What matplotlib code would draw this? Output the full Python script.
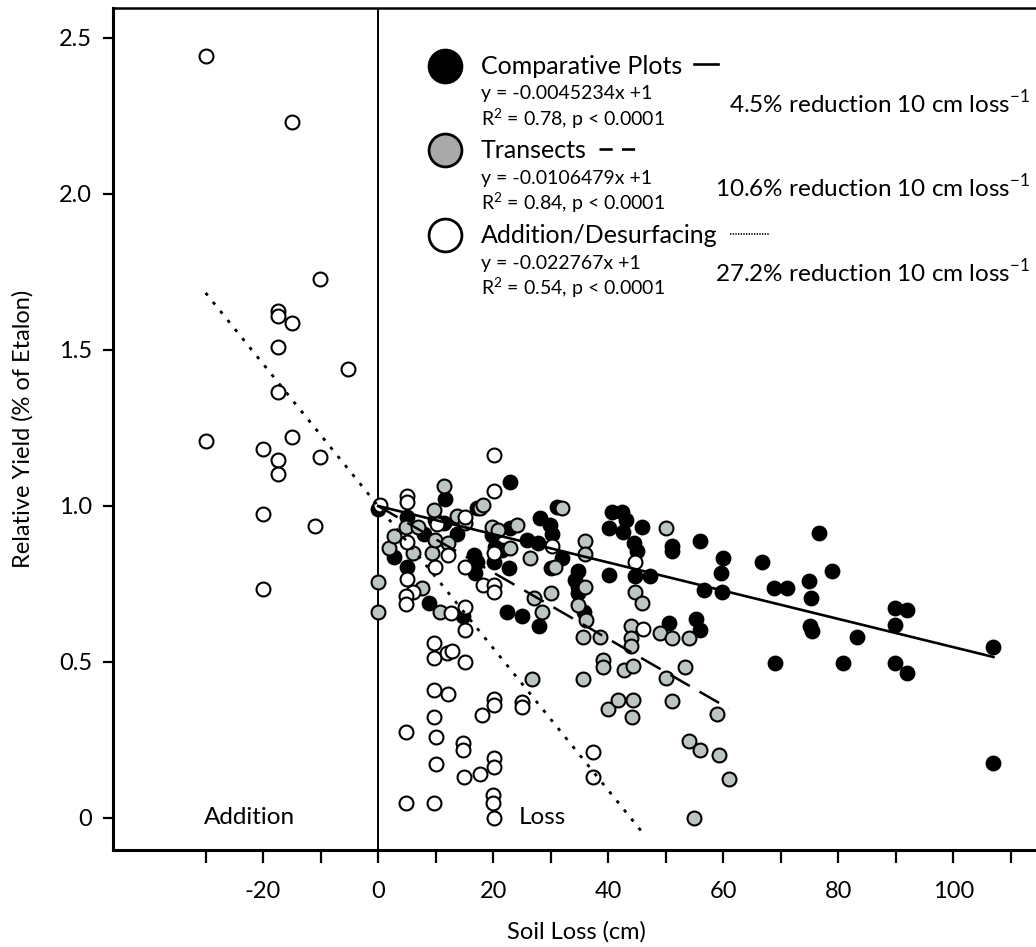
import numpy as np
import matplotlib.pyplot as plt

plt.rcParams['font.family'] = ['Lato', 'DejaVu Sans']

# Comparative Plots (black)
comp_x = [0, 2.7, 5.0, 5.0, 7.9, 8.8, 9.9, 11.4, 11.7, 13.7, 14.8, 16.6, 17.2, 17.2, 16.9,
          19.8, 20.1, 20.3, 21.5, 22.7, 22.4, 22.9, 23.0, 25.0, 25.9, 27.8, 27.9, 28.2, 29.9,
          30.2, 30.0, 31.1, 31.9, 34.3, 34.8, 34.8, 34.8, 35.8, 40.1, 40.1, 40.6, 42.4, 43.1,
          42.6, 45.9, 44.5, 45.0, 44.7, 47.3, 50.5, 51.1, 51.1, 55.2, 56.0, 56.0, 56.6, 59.8,
          59.9, 59.6, 66.7, 68.9, 71.1, 69.0, 75.0, 75.3, 75.1, 75.4, 76.7, 78.9, 80.9, 83.2,
          89.9, 91.9, 89.9, 89.9, 91.9, 107.0, 107.0]
comp_y = [0.99, 0.838, 0.966, 0.805, 0.910, 0.688, 0.955, 0.944, 1.022, 0.910, 0.647, 0.843,
          0.993, 0.822, 0.784, 0.907, 0.822, 0.870, 0.859, 0.800, 0.660, 1.078, 0.928, 0.646,
          0.891, 0.880, 0.614, 0.961, 0.939, 0.910, 0.802, 0.996, 0.832, 0.763, 0.790, 0.741,
          0.720, 0.660, 0.928, 0.779, 0.980, 0.980, 0.954, 0.916, 0.932, 0.881, 0.856, 0.776,
          0.774, 0.624, 0.872, 0.856, 0.638, 0.604, 0.888, 0.731, 0.725, 0.834, 0.786, 0.819,
          0.736, 0.736, 0.498, 0.758, 0.704, 0.615, 0.599, 0.914, 0.790, 0.496, 0.581, 0.672,
          0.668, 0.619, 0.496, 0.464, 0.549, 0.175]

# Transects (grey)
tran_x = [0, 0, 1.9, 2.7, 4.8, 6.1, 7.0, 7.6, 9.3, 9.8, 9.9, 10.8, 11.4, 12.1, 13.7, 15.1,
          17.7, 18.3, 19.8, 20.9, 23.0, 24.1, 26.4, 26.8, 27.1, 28.5, 30.1, 30.8, 31.9, 34.8,
          35.7, 35.7, 35.9, 35.9, 36.0, 36.1, 38.6, 39.1, 39.1, 40.0, 41.8, 42.8, 43.9, 44.0,
          44.0, 44.1, 44.3, 44.4, 44.7, 45.9, 49.0, 50.0, 50.1, 51.1, 51.1, 53.4, 54.1, 54.1,
          55.0, 56.0, 58.9, 59.2, 61.0]
tran_y = [0.755, 0.66, 0.864, 0.905, 0.932, 0.848, 0.932, 0.736, 0.848, 0.987, 0.891, 0.661,
          1.065, 0.880, 0.968, 0.944, 0.993, 1.003, 0.934, 0.924, 0.864, 0.939, 0.832, 0.447,
          0.705, 0.661, 0.721, 0.806, 0.995, 0.683, 0.446, 0.581, 0.889, 0.846, 0.741, 0.636,
          0.581, 0.506, 0.485, 0.350, 0.378, 0.474, 0.615, 0.578, 0.552, 0.323, 0.379, 0.486,
          0.725, 0.689, 0.593, 0.928, 0.448, 0.576, 0.376, 0.484, 0.576, 0.247, 0.0, 0.218,
          0.333, 0.202, 0.124]

# Addition/Desurfacing (open)
add_x = [-30, -15, -10.1, -17.4, -17.4, -15, -17.4, -5.3, -17.4, -15, -30, -20, -17.4, -10.1,
         -17.4, -20, -10.9, -20,
         0.3, 5.0, 5.0, 5.0, 5.0, 6.1, 4.9, 4.9, 9.9, 10.2, 12.2, 12.6, 15.1, 15.1, 15.1, 15.1,
         18.2, 20.1, 20.1, 20.1, 20.1, 20.1, 30.2, 44.7, 46.0, 9.8, 11.9, 12.8, 9.8, 15.1, 9.8,
         12.1, 20.2, 20.2, 18.0, 9.8, 4.9, 10.1, 14.8, 14.8, 10.1, 20.1, 20.1, 17.7, 15.0, 4.9,
         9.8, 19.9, 19.9, 20.1, 25.0, 25.0, 37.3, 37.3]
add_y = [2.442, 2.232, 1.727, 1.626, 1.61, 1.585, 1.51, 1.44, 1.364, 1.222, 1.208, 1.183, 1.148,
         1.158, 1.103, 0.973, 0.935, 0.734,
         1.002, 1.033, 1.012, 0.886, 0.765, 0.725, 0.713, 0.685, 0.805, 0.941, 0.843, 0.658,
         0.966, 0.805, 0.675, 0.601, 0.748, 1.163, 1.047, 0.848, 0.748, 0.725, 0.872, 0.820,
         0.605, 0.562, 0.530, 0.536, 0.512, 0.501, 0.410, 0.396, 0.380, 0.362, 0.331, 0.323,
         0.277, 0.259, 0.239, 0.218, 0.173, 0.191, 0.162, 0.141, 0.132, 0.047, 0.047, 0.074,
         0.049, 0.0, 0.373, 0.357, 0.213, 0.132]

# fitted slopes (intercept 1) and line extents
slopes = [-0.0045234, -0.0106479, -0.022767]
fit_ranges = [(0, 107), (0, 61), (-30, 46)]
fit_styles = ['-', (0, (9, 4.5)), (0, (1.2, 3))]
fit_lw = [1.9, 1.8, 2.0]

GREY = '#bcc5c2'

fig = plt.figure(figsize=(10.36, 9.47), dpi=100)
ax = fig.add_axes([113 / 1036, 97 / 947, 927 / 1036, 842 / 947])
ax.set_xlim(-46.1, 115.1)
ax.set_ylim(-0.1026, 2.596)

ms = 100
ax.scatter(comp_x, comp_y, s=ms, c='black', edgecolors='black', linewidths=1.4, zorder=3)
ax.scatter(tran_x, tran_y, s=ms, c=GREY, edgecolors='black', linewidths=1.5, zorder=3)
ax.scatter(add_x, add_y, s=ms, c='white', edgecolors='black', linewidths=1.5, zorder=3)

for m, (x0, x1), ls, lw in zip(slopes, fit_ranges, fit_styles, fit_lw):
    xx = np.linspace(x0, x1, 50)
    ax.plot(xx, m * xx + 1, color='black', lw=lw, linestyle=ls, zorder=4)

ax.axvline(0, color='black', lw=1.4, zorder=2)

# axes styling
for side in ['left', 'bottom']:
    ax.spines[side].set_linewidth(2.2)
ax.spines['top'].set_linewidth(1.8)
ax.spines['right'].set_visible(False)

ax.set_xticks(np.arange(-30, 111, 10))
ax.set_xticklabels(['' if t % 20 or t < -20 else str(t) for t in range(-30, 111, 10)])
ax.set_yticks([0, 0.5, 1.0, 1.5, 2.0, 2.5])
ax.set_yticklabels(['0', '0.5', '1.0', '1.5', '2.0', '2.5'])
ax.tick_params(axis='x', length=9, width=1.6, labelsize=17, pad=13)
ax.tick_params(axis='y', length=7, width=1.6, labelsize=17, pad=8)

ax.set_xlabel('Soil Loss (cm)', fontsize=17, labelpad=14)
ax.set_ylabel('Relative Yield (% of Etalon)', fontsize=17, labelpad=18)

ax.text(-22.4, 0, 'Addition', fontsize=17.5, ha='center', va='center')
ax.text(28.5, 0, 'Loss', fontsize=17.5, ha='center', va='center')

# hand-made legend (axes fraction coords)
tr = ax.transAxes
leg_fill = ['black', '#a9a9a9', 'white']
leg_names = ['Comparative Plots', 'Transects', 'Addition/Desurfacing']
leg_eq = ['y = -0.0045234x +1', 'y = -0.0106479x +1', 'y = -0.022767x +1']
leg_r2 = [r'R$^{\mathregular{2}}$ = 0.78, p < 0.0001',
          r'R$^{\mathregular{2}}$ = 0.84, p < 0.0001',
          r'R$^{\mathregular{2}}$ = 0.54, p < 0.0001']
leg_red = [r'4.5% reduction 10 cm loss$^{\mathregular{-1}}$',
           r'10.6% reduction 10 cm loss$^{\mathregular{-1}}$',
           r'27.2% reduction 10 cm loss$^{\mathregular{-1}}$']
leg_y = [0.931, 0.831, 0.730]
leg_line_len = [24, 38, 40]  # pixels
leg_ls = ['-', (0, (5, 3.5)), (0, (0.8, 0.8))]
leg_lw = [1.9, 1.9, 1.2]

name_texts = []
for i in range(3):
    y0 = leg_y[i]
    ax.scatter([0.358], [y0], s=560, c=leg_fill[i], edgecolors='black', linewidths=2,
               transform=tr, clip_on=False, zorder=5)
    name_texts.append(ax.text(0.397, y0, leg_names[i], fontsize=18, ha='left', va='center',
                              transform=tr))
    ax.text(0.397, y0 - 0.033, leg_eq[i], fontsize=14, ha='left', va='center', transform=tr)
    ax.text(0.397, y0 - 0.062, leg_r2[i], fontsize=14, ha='left', va='center', transform=tr)
    ax.text(0.989, y0 - 0.044, leg_red[i], fontsize=17.5, ha='right', va='center', transform=tr)

# line samples placed just after each legend name
fig.canvas.draw()
renderer = fig.canvas.get_renderer()
ax_w = ax.get_window_extent().width
for i, t in enumerate(name_texts):
    bb = t.get_window_extent(renderer)
    x_start = ax.transAxes.inverted().transform((bb.x1 + 12, bb.y0))[0]
    x_end = x_start + leg_line_len[i] / ax_w
    ax.plot([x_start, x_end], [leg_y[i] + 0.002] * 2, color='black', lw=leg_lw[i],
            linestyle=leg_ls[i], transform=tr)

fig.savefig('out.png', dpi=100)
